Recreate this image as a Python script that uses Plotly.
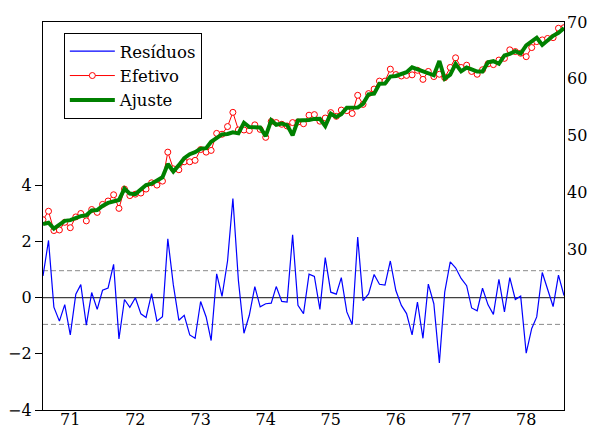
import pandas as pd
import plotly.graph_objects as go

# Monthly observations 1970m8 .. 1978m8
start_month = "1970-08-01"
n_obs = 97

residuos = [0.77, 2.03, -0.34, -0.84, -0.25, -1.33, 0.12, 0.46, -0.98, 0.18,
            -0.42, 0.26, 0.34, 1.18, -1.47, -0.07, -0.35, -0.01, -0.58, -0.71,
            0.14, -0.84, -0.68, 2.09, 0.45, -0.81, -0.63, -1.33, -1.45, -0.14,
            -0.69, -1.53, 0.84, 0.04, 1.30, 3.52, 0.60, -1.27, -0.63, 0.39,
            -0.33, -0.22, -0.20, 0.39, -0.14, -0.16, 2.23, -0.28, -0.57, 0.83,
            0.75, -0.42, 1.42, 0.19, 0.12, 0.71, -0.51, -0.96, 2.15, -0.11,
            0.13, 0.82, 0.47, 0.44, 1.30, 0.25, -0.28, -0.57, -1.33, -0.16,
            -1.45, 0.48, -0.22, -2.33, 0.19, 1.27, 1.06, 0.68, 0.42, -0.37,
            -0.47, 0.33, -0.26, -0.60, 0.65, -0.51, 0.71, -0.07, 0.05, -1.98,
            -1.10, -0.69, 0.89, 0.28, -0.32, 0.80, 0.07]

efetivo = [35.2, 36.7, 33.3, 33.4, 34.75, 33.8, 35.7, 36.3, 35.0, 37.0,
           36.5, 37.9, 38.5, 39.6, 37.2, 40.6, 39.45, 39.7, 39.9, 40.6,
           41.7, 41.3, 42.0, 47.1, 44.15, 44.0, 45.4, 45.4, 45.65, 47.55,
           47.1, 47.4, 50.4, 50.25, 51.6, 54.1, 51.0, 51.0, 50.9, 51.9,
           51.1, 49.7, 52.5, 52.3, 52.0, 51.7, 52.3, 52.4, 52.1, 53.6,
           53.7, 52.55, 53.1, 54.05, 53.4, 54.5, 54.4, 53.9, 57.1, 55.5,
           57.4, 58.2, 59.6, 59.6, 61.7, 60.75, 60.5, 60.6, 60.7, 61.5,
           59.9, 61.3, 60.4, 60.8, 60.2, 62.0, 63.7, 62.0, 62.4, 61.3,
           60.8, 61.6, 62.65, 62.5, 63.3, 63.6, 65.1, 64.8, 64.5, 63.9,
           65.5, 66.55, 66.85, 67.1, 67.25, 68.9, 69.0]

ajuste = [34.43, 34.67, 33.64, 34.24, 35.00, 35.13, 35.58, 35.84, 35.98, 36.82,
          36.92, 37.64, 38.16, 38.42, 38.67, 40.67, 39.80, 39.71, 40.48, 41.31,
          41.56, 42.14, 42.68, 45.01, 43.70, 44.81, 46.03, 46.73, 47.10, 47.69,
          47.79, 48.93, 49.56, 50.21, 50.30, 50.58, 50.40, 52.27, 51.53, 51.51,
          51.43, 49.92, 52.70, 51.91, 52.14, 51.86, 50.07, 52.68, 52.67, 52.77,
          52.95, 52.97, 51.68, 53.86, 53.28, 53.79, 54.91, 54.86, 54.95, 55.61,
          57.27, 57.38, 59.13, 59.16, 60.40, 60.50, 60.78, 61.17, 62.03, 61.66,
          61.35, 60.82, 60.62, 63.13, 60.01, 60.73, 62.64, 61.32, 61.98, 61.67,
          61.27, 61.27, 62.91, 63.10, 62.65, 64.11, 64.39, 64.87, 64.45, 65.88,
          66.60, 67.24, 65.96, 66.82, 67.57, 68.10, 68.93]

year_ticks = ["1971-01-01", "1972-01-01", "1973-01-01", "1974-01-01",
              "1975-01-01", "1976-01-01", "1977-01-01", "1978-01-01"]
year_labels = ["71", "72", "73", "74", "75", "76", "77", "78"]

resid_ticks = [-4, -2, 0, 2, 4]
level_ticks = [30, 40, 50, 60, 70]
std_err = 0.955

dates = pd.date_range(start_month, periods=n_obs, freq="MS")

FONT = "DejaVu Serif"

fig = go.Figure()
fig.add_trace(go.Scatter(x=dates, y=residuos, name="Resíduos", mode="lines",
                         line=dict(color="#0000FF", width=1.2), yaxis="y"))
fig.add_trace(go.Scatter(x=dates, y=efetivo, name="Efetivo", mode="lines+markers",
                         line=dict(color="#FF0000", width=1),
                         marker=dict(symbol="circle", size=6, color="white",
                                     line=dict(color="#FF0000", width=1)),
                         yaxis="y2"))
fig.add_trace(go.Scatter(x=dates, y=ajuste, name="Ajuste", mode="lines",
                         line=dict(color="#008000", width=4), yaxis="y2"))

# zero line and +/- one standard error band
fig.add_shape(type="line", xref="paper", yref="y", x0=0, x1=1, y0=0, y1=0,
              line=dict(color="#404040", width=1.2), layer="below")
for v in (std_err, -std_err):
    fig.add_shape(type="line", xref="paper", yref="y", x0=0, x1=1, y0=v, y1=v,
                  line=dict(color="#8a8a8a", width=1, dash="5px,3px"), layer="below")

# page has an 8px body margin: 580x423 figure fills the 596x439 window exactly
fig.update_layout(
    width=580, height=423,
    margin=dict(l=35, r=24, t=14, b=21),
    plot_bgcolor="white", paper_bgcolor="white",
    font=dict(family=FONT, size=16, color="black"),
    xaxis=dict(type="date", range=[dates[0], dates[-1]],
               tickvals=year_ticks, ticktext=year_labels, ticks="",
               showgrid=False, zeroline=False, showline=True, mirror=True,
               linecolor="black", linewidth=1.2, ticklabelstandoff=-5,
               automargin=False,
               tickfont=dict(family=FONT, size=16)),
    yaxis=dict(range=[-4, 9.80], tickvals=resid_ticks, ticks="outside",
               ticklen=7, tickcolor="black", tickwidth=1,
               showgrid=False, zeroline=False, showline=True, mirror=True,
               linecolor="black", linewidth=1.2, automargin=False,
               tickfont=dict(family=FONT, size=16)),
    yaxis2=dict(range=[1.72, 70], tickvals=level_ticks, overlaying="y", side="right",
                ticks="", showgrid=False, zeroline=False, showline=False,
                ticklabelstandoff=2, automargin=False,
                tickfont=dict(family=FONT, size=16)),
    legend=dict(x=0.04, y=0.972, xanchor="left", yanchor="top",
                bordercolor="black", borderwidth=1, bgcolor="white",
                font=dict(family=FONT, size=16.5), itemwidth=45,
                tracegroupgap=0),
)

fig.write_html("out.html", config={"displayModeBar": False})
